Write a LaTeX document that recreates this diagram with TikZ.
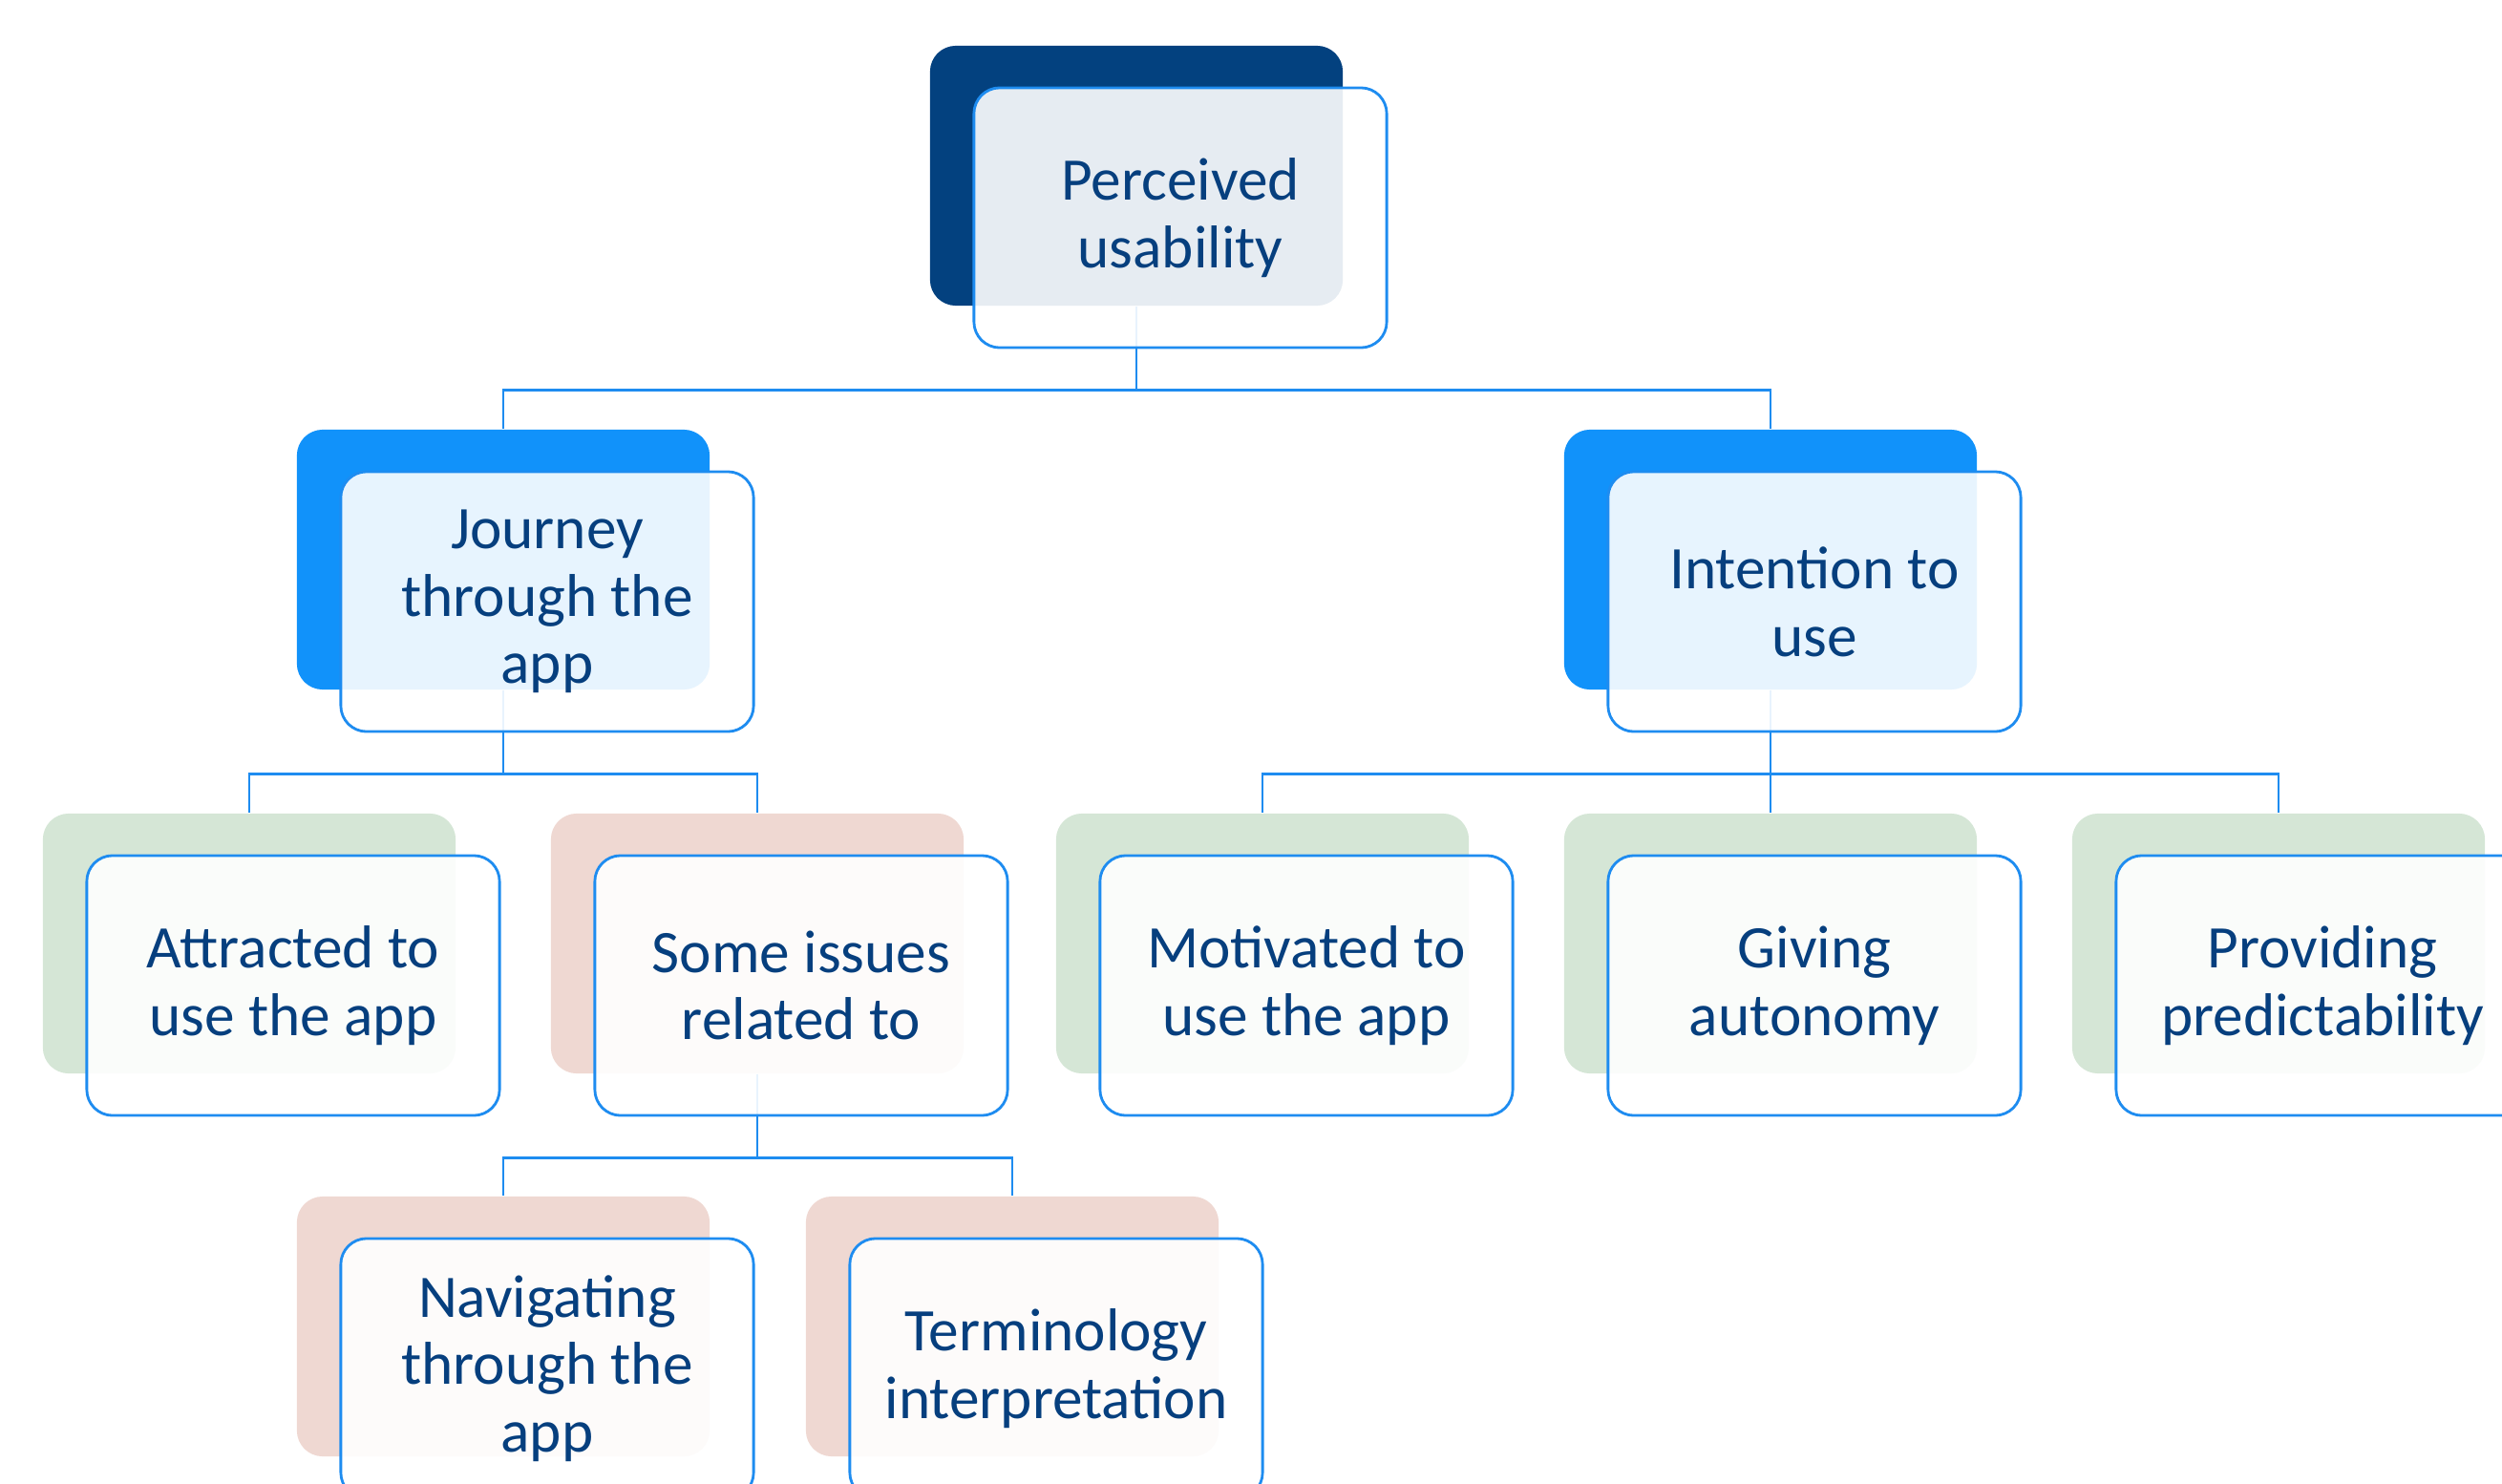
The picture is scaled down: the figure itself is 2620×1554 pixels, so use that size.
\documentclass[tikz,border=0pt]{standalone}
\usepackage{fontspec}
\setmainfont{Carlito}
\definecolor{navy}{HTML}{03417F}
\definecolor{sky}{HTML}{1192FA}
\definecolor{sage}{HTML}{D5E6D6}
\definecolor{blush}{HTML}{EFD8D2}
\definecolor{edge}{HTML}{1E8CF0}
\definecolor{ink}{HTML}{063F7E}
\begin{document}
\begin{tikzpicture}[x=0.01cm, y=-0.01cm,
    back/.style={rectangle, rounded corners=0.27cm, minimum width=4.32cm, minimum height=2.72cm, inner sep=0pt},
    front/.style={rectangle, rounded corners=0.27cm, draw=edge, line width=0.8pt, fill=white, fill opacity=0.9, text opacity=1, minimum width=4.32cm, minimum height=2.72cm, inner sep=0pt, align=center, text=ink, font=\fontsize{18}{20.1}\selectfont},
    link/.style={draw=edge, line width=0.8pt}]
       \useasboundingbox (0,0) rectangle (2620,1554);
       \clip (0,0) rectangle (2620,1554);

       % coloured backs
       \path (1190, 184) node[back, fill=navy](b1){}
       (527, 586) node[back, fill=sky](b2){}
       (1854, 586) node[back, fill=sky](b3){}
       (261, 988) node[back, fill=sage](b4){}
       (793, 988) node[back, fill=blush](b5){}
       (1322, 988) node[back, fill=sage](b6){}
       (1854, 988) node[back, fill=sage](b7){}
       (2386, 988) node[back, fill=sage](b8){}
       (527, 1389) node[back, fill=blush](b9){}
       (1060, 1389) node[back, fill=blush](b10){};

       \draw[link] (b1.south) -- ++(0,88) -| (b2.north);
       \draw[link] (b1.south) -- ++(0,88) -| (b3.north);
       \draw[link] (b2.south) -- ++(0,88) -| (b4.north);
       \draw[link] (b2.south) -- ++(0,88) -| (b5.north);
       \draw[link] (b3.south) -- ++(0,88) -| (b6.north);
       \draw[link] (b3.south) -- ++(0,88) -| (b7.north);
       \draw[link] (b3.south) -- ++(0,88) -| (b8.north);
       \draw[link] (b5.south) -- ++(0,88) -| (b9.north);
       \draw[link] (b5.south) -- ++(0,88) -| (b10.north);

       % text boxes
       \path (1236, 228) node[front](t1){Perceived\\usability}
       (573, 630) node[front](t2){Journey\\through the\\app}
       (1900, 630) node[front](t3){Intention to\\use}
       (307, 1032) node[front](t4){Attracted to\\use the app}
       (839, 1032) node[front](t5){Some issues\\related to}
       (1368, 1032) node[front](t6){Motivated to\\use the app}
       (1900, 1032) node[front](t7){Giving\\autonomy}
       (2432, 1032) node[front](t8){Providing\\predictability}
       (573, 1433) node[front](t9){Navigating\\through the\\app}
       (1106, 1433) node[front](t10){Terminology\\interpretation};
    \end{tikzpicture}
\end{document}
